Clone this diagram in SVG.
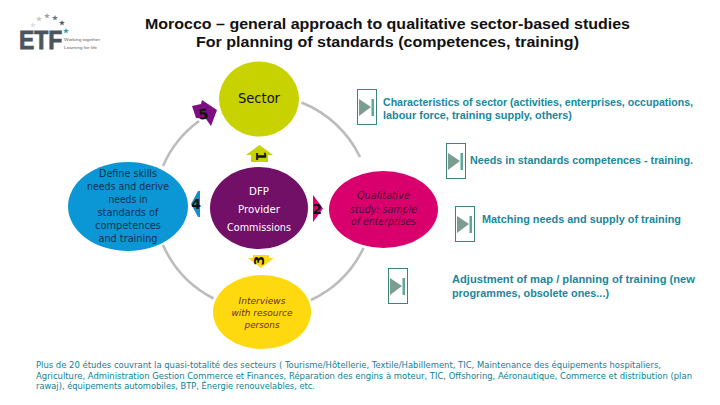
<svg xmlns="http://www.w3.org/2000/svg" width="720" height="405" viewBox="0 0 720 405">
<style>
.t{font-family:"Liberation Sans",Arial,sans-serif}
.d{font-family:"DejaVu Sans",Verdana,sans-serif}
.title{font-size:14px;font-weight:bold;fill:#111}
.teal{font-size:10.5px;font-weight:bold;fill:#1a879b}
.foot{font-size:8.3px;fill:#0e7f96}
.node{font-size:10px;text-anchor:middle}
.num{font-size:14px;font-weight:bold;fill:#111;text-anchor:middle}
.ring{fill:none;stroke:#bcbcbc;stroke-width:2.6}
.btn{fill:#fff;stroke:#3a8578;stroke-width:1}
.tri{fill:#7b9c90}
.bar{fill:#5fa898}
</style>
<defs>
<path id="star" d="M0-3 .8-.9 3-.9 1.200.4 1.900 2.600 0 1.300-1.900 2.600-1.200.4-3-.9-.8-.9Z"/>
<g id="button">
<rect class="btn" x=".5" y=".5" width="19" height="35"/>
<polygon class="tri" points="2,10 14,18 2,27"/>
<rect class="bar" x="14.500" y="10" width="2.500" height="17"/>
</g>
</defs>
<g id="logo">
<use href="#star" x="33" y="25" fill="#dcdfe0"/>
<use href="#star" x="39" y="19" fill="#c4c8ca"/>
<use href="#star" x="47" y="16" fill="#9aa0a4"/>
<use href="#star" x="55" y="18" fill="#6d757b"/>
<use href="#star" x="62" y="23" fill="#545e65"/>
<use href="#star" x="66" y="31" fill="#2aa5a0"/>
<text class="t" transform="translate(19 49) scale(1 1.150)" font-size="23" font-weight="bold" fill="#4a555c" stroke="#4a555c" stroke-width=".7">ETF</text>
<text class="t" x="64" y="41" font-size="4.200" fill="#5a6268" textLength="36" lengthAdjust="spacingAndGlyphs">Working together</text>
<text class="t" x="64" y="49" font-size="4.200" fill="#5a6268" textLength="33" lengthAdjust="spacingAndGlyphs">Learning for life</text>
</g>
<g id="title">
<text class="t title" x="145" y="29" textLength="485" lengthAdjust="spacingAndGlyphs">Morocco – general approach to qualitative sector-based studies</text>
<text class="t title" x="196" y="47" textLength="383" lengthAdjust="spacingAndGlyphs">For planning of standards (competences, training)</text>
</g>
<g id="connectors">
<path class="ring" d="M301.500 102.500A110 110 0 0 1 360 157"/>
<path class="ring" d="M363.500 248A110 110 0 0 1 311 300"/>
<path class="ring" d="M213.500 298.500A110 110 0 0 1 163 245"/>
<path class="ring" d="M163 166A110 110 0 0 1 199 121"/>
</g>
<g id="sector">
<ellipse cx="259" cy="99" rx="40" ry="37.500" fill="#c8d200"/>
<text class="d" x="238" y="103" font-size="13.500" fill="#111" textLength="42" lengthAdjust="spacingAndGlyphs">Sector</text>
</g>
<g id="define">
<ellipse cx="128" cy="206.500" rx="60" ry="44.500" fill="#0b97d5"/>
<g class="d node" fill="#10304f">
<text x="128" y="177" textLength="58" lengthAdjust="spacingAndGlyphs">Define skills</text>
<text x="128" y="190" textLength="82" lengthAdjust="spacingAndGlyphs">needs and derive</text>
<text x="128" y="203" textLength="39" lengthAdjust="spacingAndGlyphs">needs in</text>
<text x="128" y="216" textLength="61" lengthAdjust="spacingAndGlyphs">standards of</text>
<text x="128" y="229" textLength="66" lengthAdjust="spacingAndGlyphs">competences</text>
<text x="128" y="242" textLength="59" lengthAdjust="spacingAndGlyphs">and training</text>
</g>
</g>
<g id="dfp">
<ellipse cx="259" cy="208" rx="49" ry="41" fill="#721068"/>
<g class="d node" fill="#fff">
<text x="259" y="195" textLength="20" lengthAdjust="spacingAndGlyphs">DFP</text>
<text x="259" y="213" textLength="42" lengthAdjust="spacingAndGlyphs">Provider</text>
<text x="259" y="231" textLength="64" lengthAdjust="spacingAndGlyphs">Commissions</text>
</g>
</g>
<g id="qualitative">
<ellipse cx="383.500" cy="209.500" rx="54.500" ry="38.500" fill="#d9006e"/>
<g class="d node" fill="#4a0c30" font-style="italic">
<text x="383.500" y="199" textLength="53" lengthAdjust="spacingAndGlyphs">Qualitative</text>
<text x="383.500" y="213" textLength="67" lengthAdjust="spacingAndGlyphs">study: sample</text>
<text x="383.500" y="225" textLength="65" lengthAdjust="spacingAndGlyphs">of enterprises</text>
</g>
</g>
<g id="interviews">
<ellipse cx="262" cy="312" rx="49" ry="37" fill="#ffd90f"/>
<g class="d node" fill="#6a2a4a" font-style="italic" style="font-size:9px">
<text x="262" y="304" textLength="47" lengthAdjust="spacingAndGlyphs">Interviews</text>
<text x="262" y="316" textLength="61" lengthAdjust="spacingAndGlyphs">with resource</text>
<text x="262" y="328" textLength="35" lengthAdjust="spacingAndGlyphs">persons</text>
</g>
</g>
<g id="step1">
<polygon points="259.500,145 273,155 268,155 268,162 251,162 251,155 246,155" fill="#c8d200"/>
<text class="d num" transform="translate(259.500 156) rotate(90)" dominant-baseline="middle" text-anchor="middle">1</text>
</g>
<g id="step2">
<polygon points="313,195 323,208.500 313,222" fill="#d9006e"/>
<text class="d num" x="317" y="213.500">2</text>
</g>
<g id="step3">
<polygon points="261,268 274,258 269,258 269,255 253,255 253,258 248,258" fill="#ffd90f"/>
<text class="d num" transform="translate(260 260.500) rotate(-90)" dominant-baseline="middle" text-anchor="middle">3</text>
</g>
<g id="step4">
<polygon points="191,204 198,191 200,191 200,217 198,217" fill="#1b8dc0"/>
<text class="d num" x="196" y="209">4</text>
</g>
<g id="step5">
<polygon points="202,100 217,110 211,126 206,119 196,118 192,106 201,104" fill="#7d0f80"/>
<text class="d num" x="203.500" y="119" fill="#2a0a30" transform="rotate(-8 203.500 114)">5</text>
</g>
<g id="info1">
<use href="#button" x="357" y="89"/>
<text class="t teal" x="383" y="106" textLength="310" lengthAdjust="spacingAndGlyphs">Characteristics of sector (activities, enterprises, occupations,</text>
<text class="t teal" x="383" y="119" textLength="189" lengthAdjust="spacingAndGlyphs">labour force, training supply, others)</text>
</g>
<g id="info2">
<use href="#button" x="446" y="143"/>
<text class="t teal" x="470" y="164" textLength="223" lengthAdjust="spacingAndGlyphs">Needs in standards competences - training.</text>
</g>
<g id="info3">
<use href="#button" x="455" y="206"/>
<text class="t teal" x="482" y="223" textLength="199" lengthAdjust="spacingAndGlyphs">Matching needs and supply of training</text>
</g>
<g id="info4">
<use href="#button" x="388" y="268"/>
<text class="t teal" x="452" y="283" textLength="243" lengthAdjust="spacingAndGlyphs">Adjustment of map / planning of training (new</text>
<text class="t teal" x="452" y="297" textLength="157" lengthAdjust="spacingAndGlyphs">programmes, obsolete ones...)</text>
</g>
<g id="footer">
<text class="d foot" x="36" y="368" textLength="625" lengthAdjust="spacingAndGlyphs">Plus de 20 études couvrant la quasi-totalité des secteurs ( Tourisme/Hôtellerie, Textile/Habillement, TIC, Maintenance des équipements hospitaliers,</text>
<text class="d foot" x="36" y="379" textLength="656" lengthAdjust="spacingAndGlyphs">Agriculture, Administration Gestion Commerce et Finances, Réparation des engins à moteur, TIC, Offshoring, Aéronautique, Commerce et distribution (plan</text>
<text class="d foot" x="36" y="389" textLength="279" lengthAdjust="spacingAndGlyphs">rawaj), équipements automobiles, BTP, Énergie renouvelables, etc.</text>
</g>
</svg>
